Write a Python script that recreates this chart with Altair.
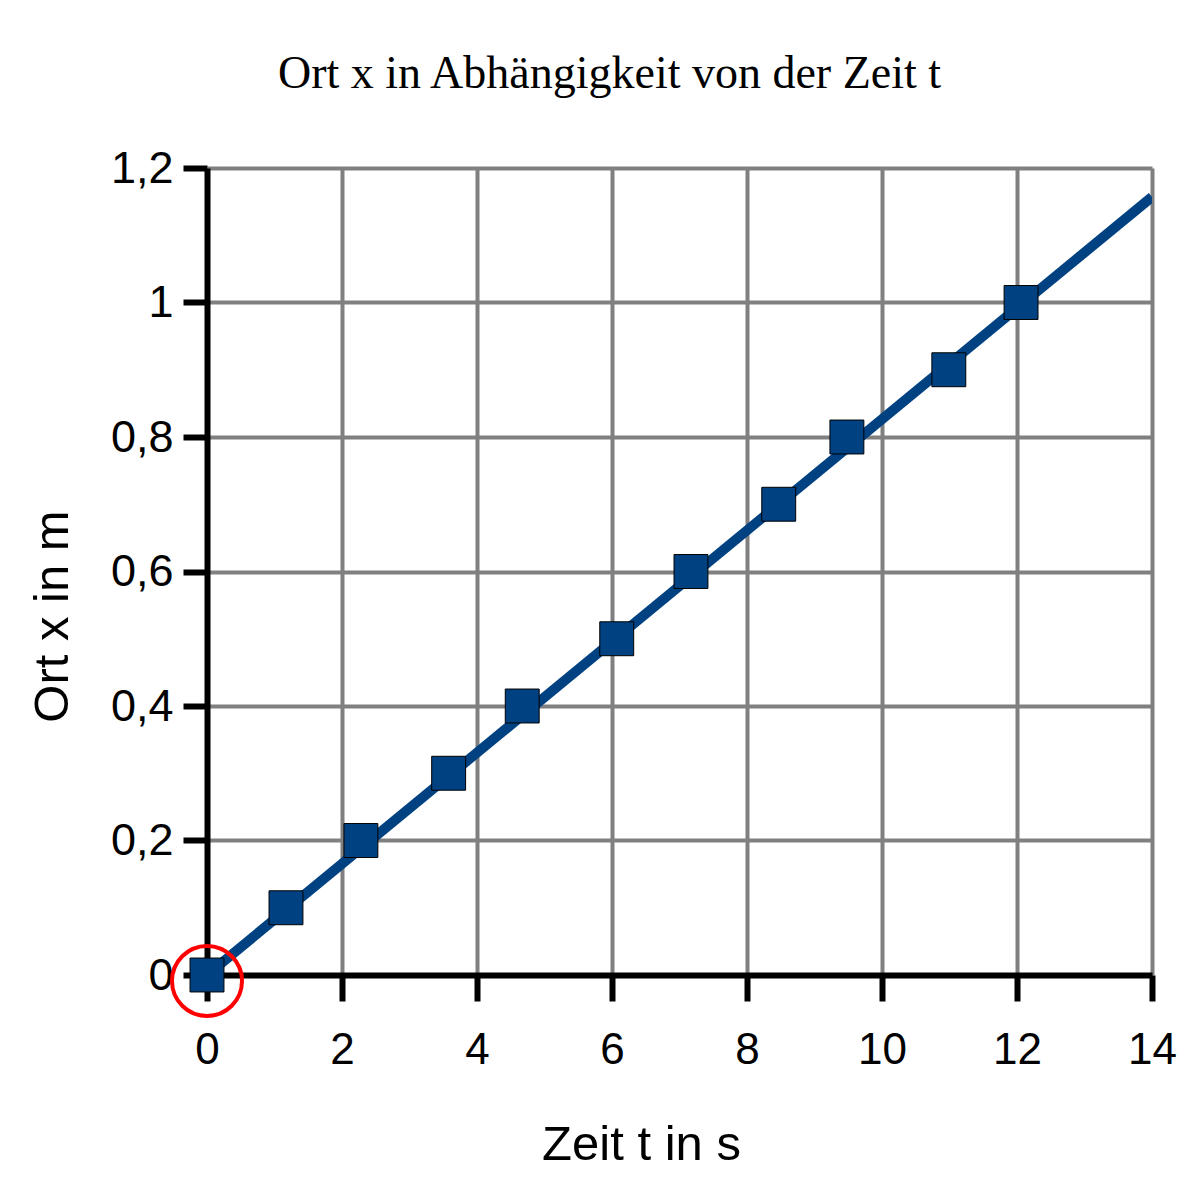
import altair as alt
import pandas as pd

# Data
zeit_t = [0, 1.17, 2.28, 3.58, 4.67, 6.07, 7.17, 8.47, 9.48, 10.99, 12.06]
ort_x = [0, 0.1, 0.2, 0.3, 0.4, 0.5, 0.6, 0.7, 0.8, 0.9, 1.0]
trend_t = [0, 14]
trend_x = [0, 1.157]
marked_t = [0]
marked_x = [0]

x_ticks = [0, 2, 4, 6, 8, 10, 12, 14]
y_ticks = [0, 0.2, 0.4, 0.6, 0.8, 1.0, 1.2]

pts = pd.DataFrame({"t": zeit_t, "x": ort_x})
trend = pd.DataFrame({"t": trend_t, "x": trend_x})
marked = pd.DataFrame({"t": marked_t, "x": marked_x})

BLUE = "#004182"

xscale = alt.Scale(domain=[0, 14], nice=False, zero=False)
yscale = alt.Scale(domain=[0, 1.2], nice=False, zero=False)

xaxis = alt.Axis(
    values=x_ticks, title="Zeit t in s", grid=True, format="d",
    gridColor="#808080", gridWidth=4, gridOpacity=1,
    domainColor="black", domainWidth=6,
    tickColor="black", tickWidth=6, tickSize=26,
    labelFont="Liberation Sans", labelFontSize=44, labelColor="black",
    labelPadding=27, labelFlush=False,
    titleFont="Liberation Sans", titleFontSize=49, titleFontWeight="normal",
    titleColor="black", titleX=434, titleY=169, titleBaseline="middle",
    titleAlign="center",
)
yaxis = alt.Axis(
    values=y_ticks, title="Ort x in m", grid=True,
    gridColor="#808080", gridWidth=4, gridOpacity=1,
    domainColor="black", domainWidth=6,
    tickColor="black", tickWidth=6, tickSize=24,
    labelFont="Liberation Sans", labelFontSize=45, labelColor="black",
    labelPadding=10, labelFlush=False,
    labelExpr="replace(format(datum.value, '.1~f'), '.', ',')",
    titleFont="Liberation Sans", titleFontSize=49, titleFontWeight="normal",
    titleColor="black", titleX=-155, titleY=448, titleAngle=-90,
    titleBaseline="middle", titleAlign="center",
)

line = alt.Chart(trend).mark_line(color=BLUE, strokeWidth=10, clip=True).encode(
    x=alt.X("t:Q", scale=xscale, axis=xaxis),
    y=alt.Y("x:Q", scale=yscale, axis=yaxis),
)

squares = alt.Chart(pts).mark_point(
    shape="square", filled=True, size=1150, color=BLUE,
    stroke="black", strokeWidth=1, opacity=1,
).encode(x="t:Q", y="x:Q")

circle = alt.Chart(marked).mark_point(
    shape="circle", filled=False, size=4900, color="#ff0000",
    strokeWidth=4, opacity=1, yOffset=6,
).encode(x="t:Q", y="x:Q")

chart = alt.layer(line, squares, circle).properties(
    width=945,
    height=807,
    autosize=alt.AutoSizeParams(type="none"),
    padding={"left": 199, "top": 160, "right": 40, "bottom": 210},
    title=alt.TitleParams(
        "Ort x in Abhängigkeit von der Zeit t",
        font="Liberation Serif", fontSize=46, fontWeight="normal",
        color="black", anchor="middle", offset=48, dx=-70,
    ),
).configure_view(stroke=None).configure(background="white")

chart.save("out.html", embed_options={"renderer": "svg", "actions": False})
